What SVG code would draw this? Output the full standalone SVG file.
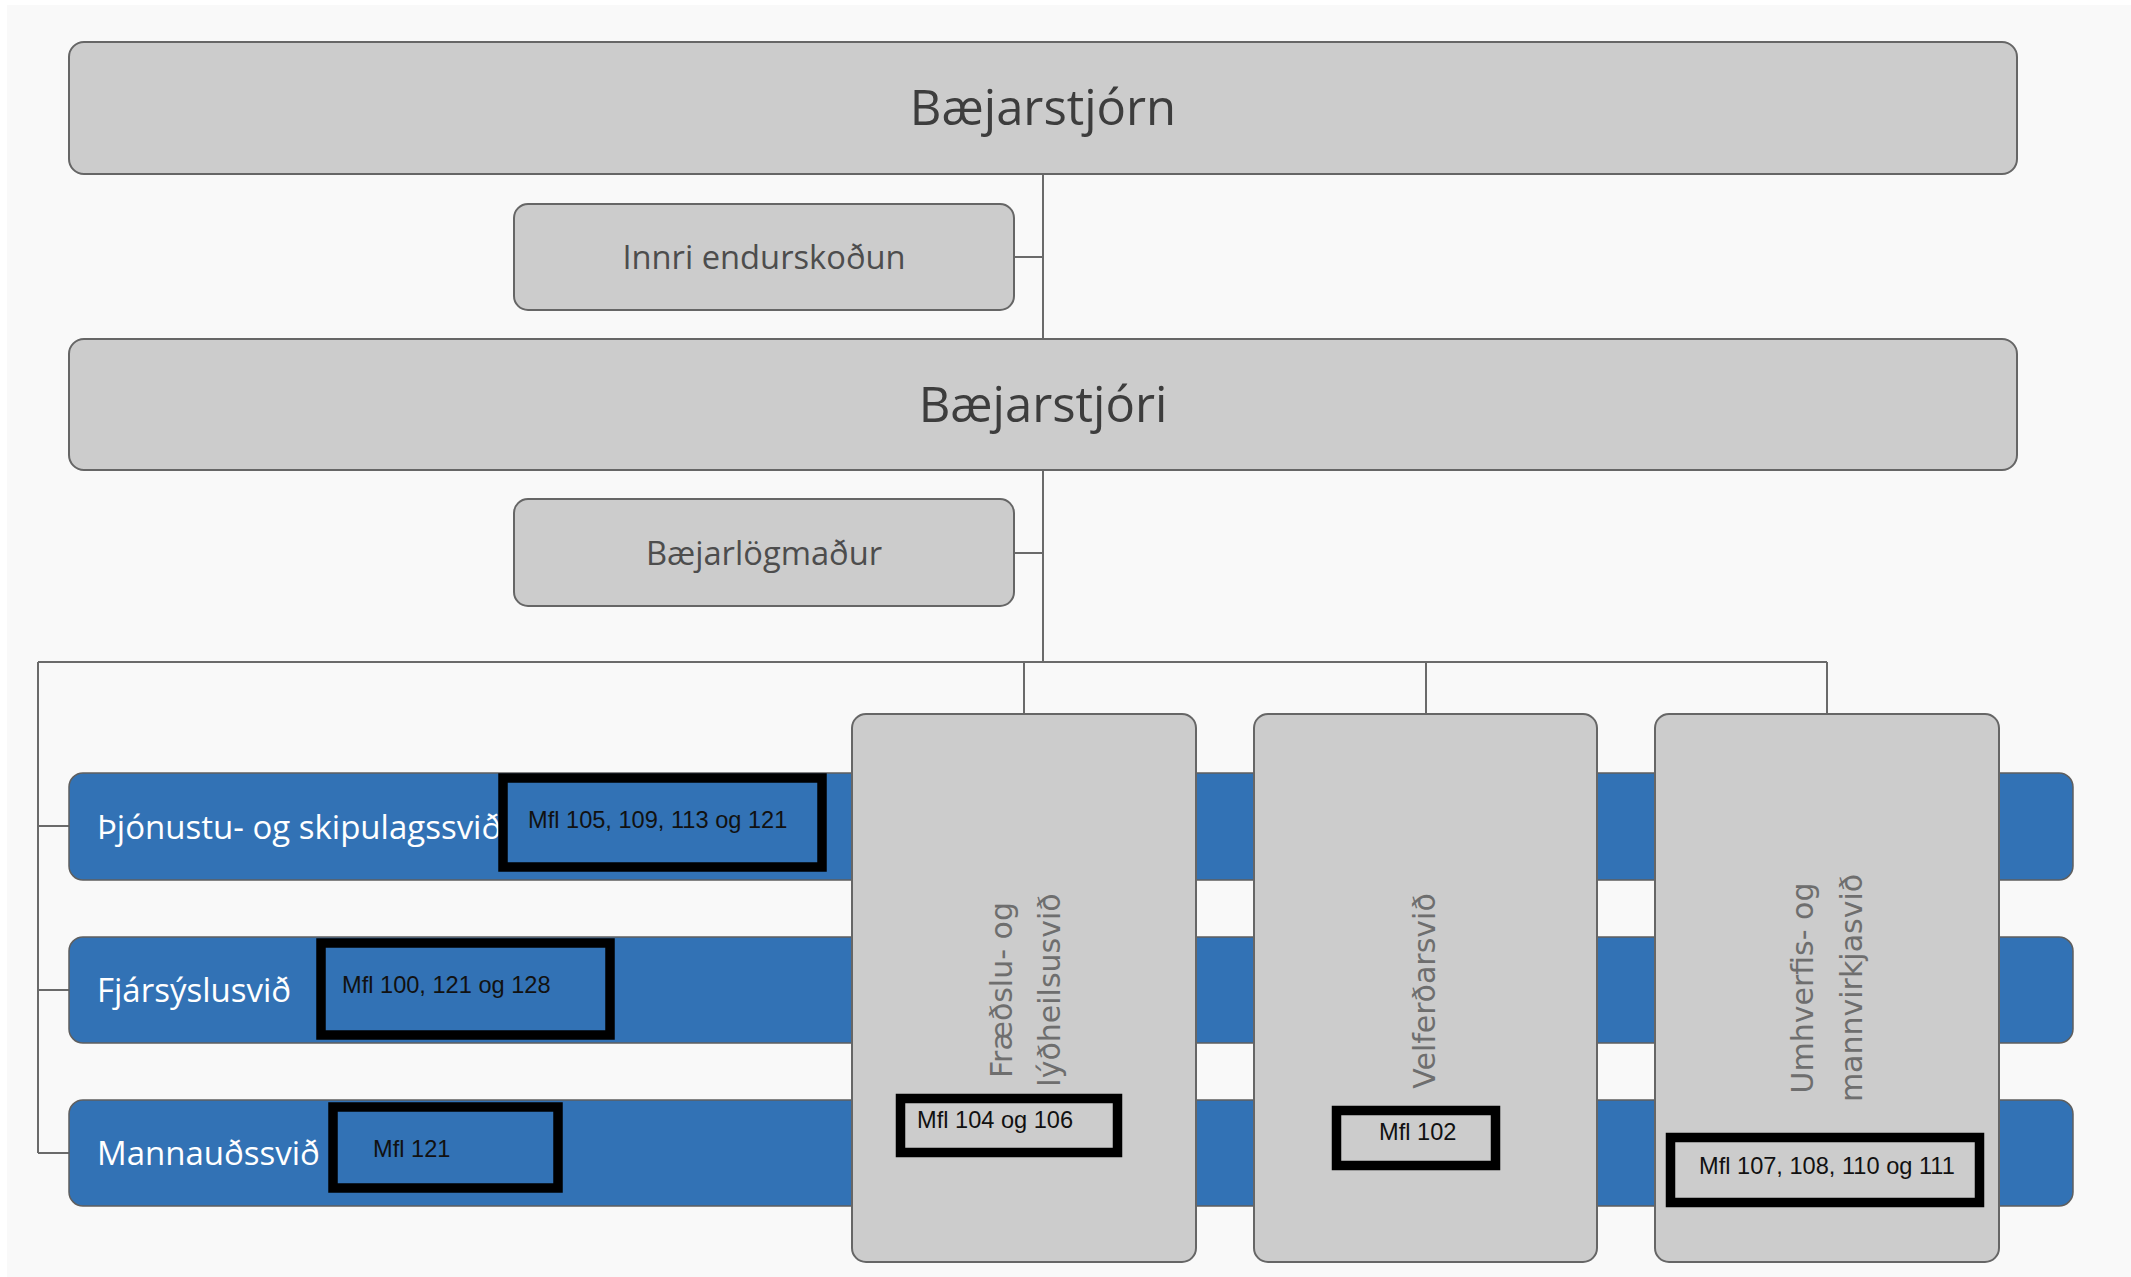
<svg xmlns="http://www.w3.org/2000/svg" width="2131" height="1277" viewBox="0 0 2131 1277">
<style>
.gbox{fill:#cccccc;stroke:#666666;stroke-width:2}
.bar{fill:#3272b5;stroke:#5f5f5f;stroke-width:1.5}
.kb{stroke:#000;stroke-width:9.5}
.kbb{fill:#3272b5}
.kbg{fill:#cccccc}
.conn{stroke:#6a6a6a;stroke-width:2;fill:none}
.big{font-family:"Open Sans",sans-serif;font-size:49px;fill:#3d3d3d;text-anchor:middle}
.mid{font-family:"Open Sans",sans-serif;font-size:32.7px;fill:#4d4d4d;text-anchor:middle}
.wt{font-family:"Open Sans",sans-serif;font-size:33px;fill:#ffffff}
.mfl{font-family:"Liberation Sans",Arial,sans-serif;font-size:23.6px;fill:#111111}
.vt{font-family:"DejaVu Sans",sans-serif;font-size:30px;fill:#6e6e6e;text-anchor:middle}
</style>
<rect x="0" y="0" width="2131" height="1277" fill="#ffffff"/>
<rect x="7" y="5" width="2124" height="1272" fill="#f9f9f9"/>
<g id="connectors">
<path class="conn" d="M1043,174V662M1014,257H1043M1014,553H1043M38,662H1827M1024,662V714M1426,662V714M1827,662V714M38,662V1153M38,826H69M38,990H69M38,1153H69"/>
</g>
<g id="baejarstjorn">
<rect class="gbox" x="69" y="42" width="1948" height="132" rx="15"/>
<text class="big" x="1043" y="125">Bæjarstjórn</text>
</g>
<g id="innri">
<rect class="gbox" x="514" y="204" width="500" height="106" rx="14"/>
<text class="mid" x="764" y="269">Innri endurskoðun</text>
</g>
<g id="baejarstjori">
<rect class="gbox" x="69" y="339" width="1948" height="131" rx="15"/>
<text class="big" x="1043" y="422">Bæjarstjóri</text>
</g>
<g id="baejarlogmadur">
<rect class="gbox" x="514" y="499" width="500" height="107" rx="14"/>
<text class="mid" x="764" y="565">Bæjarlögmaður</text>
</g>
<g id="thjonustu">
<rect class="bar" x="69" y="773" width="2004" height="107" rx="14"/>
<text class="wt" x="97" y="839">Þjónustu- og skipulagssvið</text>
<rect class="kb kbb" x="503" y="778" width="319" height="89"/>
<text class="mfl" x="528" y="828">Mfl 105, 109, 113 og 121</text>
</g>
<g id="fjarsyslu">
<rect class="bar" x="69" y="937" width="2004" height="106" rx="14"/>
<text class="wt" x="97" y="1002">Fjársýslusvið</text>
<rect class="kb kbb" x="321" y="943" width="289" height="92"/>
<text class="mfl" x="342" y="993">Mfl 100, 121 og 128</text>
</g>
<g id="mannaud">
<rect class="bar" x="69" y="1100" width="2004" height="106" rx="14"/>
<text class="wt" x="97" y="1165">Mannauðssvið</text>
<rect class="kb kbb" x="333" y="1107" width="225" height="81"/>
<text class="mfl" x="373" y="1157">Mfl 121</text>
</g>
<g id="fraedslu">
<rect class="gbox" x="852" y="714" width="344" height="548" rx="14"/>
<text class="vt" transform="translate(1012,990) rotate(-90)">Fræðslu- og</text>
<text class="vt" transform="translate(1060,990) rotate(-90)">lýðheilsusvið</text>
<rect class="kb kbg" x="900.5" y="1098.5" width="217" height="54"/>
<text class="mfl" x="917" y="1128">Mfl 104 og 106</text>
</g>
<g id="velferdar">
<rect class="gbox" x="1254" y="714" width="343" height="548" rx="14"/>
<text class="vt" transform="translate(1435,991) rotate(-90)">Velferðarsvið</text>
<rect class="kb kbg" x="1336.5" y="1110.5" width="159" height="55"/>
<text class="mfl" x="1379" y="1140">Mfl 102</text>
</g>
<g id="umhverfis">
<rect class="gbox" x="1655" y="714" width="344" height="548" rx="14"/>
<text class="vt" transform="translate(1813,988) rotate(-90)">Umhverfis- og</text>
<text class="vt" transform="translate(1862,988) rotate(-90)">mannvirkjasvið</text>
<rect class="kb kbg" x="1670.5" y="1137.5" width="309" height="65"/>
<text class="mfl" x="1699" y="1174">Mfl 107, 108, 110 og 111</text>
</g>
</svg>
